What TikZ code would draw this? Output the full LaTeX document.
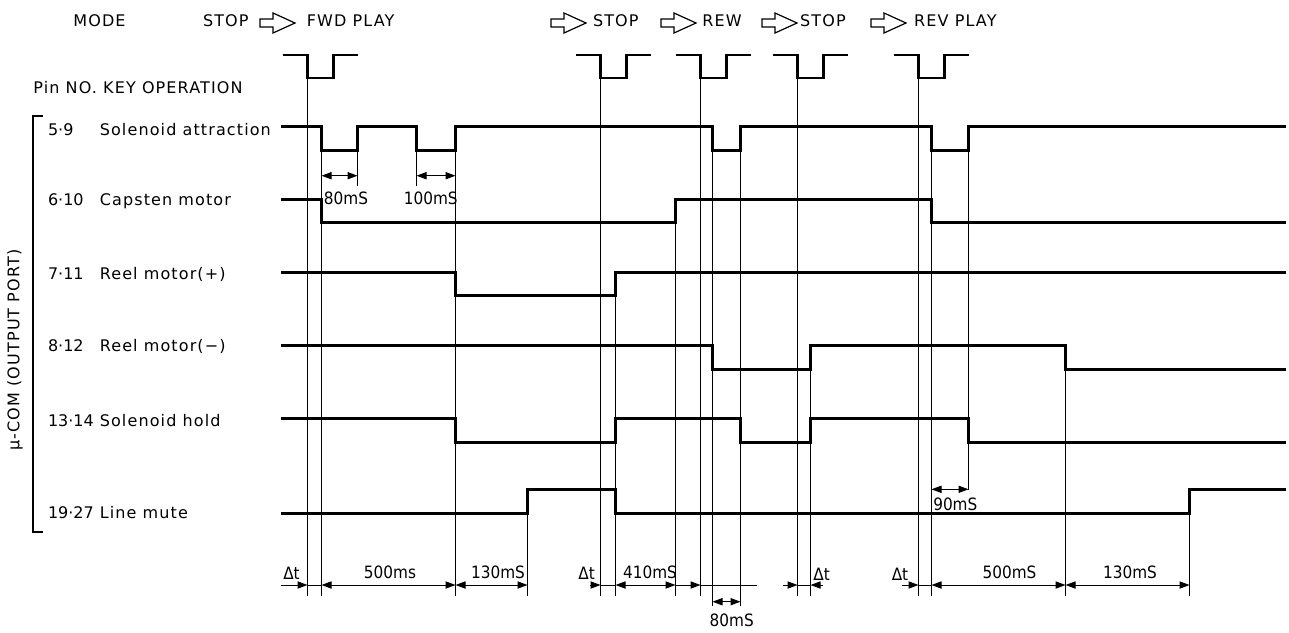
\documentclass[tikz,border=0pt]{standalone}
\usepackage{fontspec}
\setmainfont{DejaVu Sans}
\newfontfamily\lblfont{DejaVu Sans}[LetterSpace=7]
\newfontfamily\numfont{DejaVu Sans}
\newfontfamily\dimfont{DejaVu Sans}[FakeStretch=0.9]
\usetikzlibrary{arrows.meta}

\def\evA{307.5}
\def\evB{321.5}
\def\evC{357.5}
\def\evD{416.5}
\def\evE{455.5}
\def\evF{527.5}
\def\evG{600.5}
\def\evH{615.5}
\def\evI{675.5}
\def\evJ{700.5}
\def\evK{712.5}
\def\evL{740.5}
\def\evM{797.5}
\def\evN{810.5}
\def\evO{918.5}
\def\evP{931.5}
\def\evQ{968.5}
\def\evR{1065.5}
\def\evS{1189.5}

\begin{document}
\begin{tikzpicture}[x=0.5pt, y=-0.5pt,
    lbl/.style={font=\lblfont\fontsize{8}{9}\selectfont, inner sep=0pt},
    num/.style={font=\numfont\fontsize{8}{9}\selectfont, inner sep=0pt, anchor=base west},
    dimtxt/.style={font=\dimfont\fontsize{8.5}{10}\selectfont, inner sep=0pt, anchor=base},
    sig/.style={line width=1.5pt},
    key/.style={line width=1.4pt},
    evline/.style={line width=0.6pt},
    dimline/.style={line width=0.5pt},
    dimboth/.style={dimline, {Triangle[length=5pt,width=3.6pt]}-{Triangle[length=5pt,width=3.6pt]}},
    dimto/.style={dimline, -{Triangle[length=5pt,width=3.6pt]}},
    modearrow/.style={line width=0.6pt}]
    \useasboundingbox (0,0) rectangle (1289,632);

    % mode row
    \node[lbl, anchor=base]      (mode)  at (99.5,26.5)  {MODE};
    \node[lbl, anchor=base]      (stopA) at (225.8,26.5) {STOP};
    \node[lbl, anchor=base west] (fwd)   at (306.5,26.5) {FWD PLAY};
    \node[lbl, anchor=base west] (stopB) at (592.6,26.5) {STOP};
    \node[lbl, anchor=base west] (rew)   at (702,26.5)   {REW};
    \node[lbl, anchor=base west] (stopC) at (799.8,26.5) {STOP};
    \node[lbl, anchor=base west] (rev)   at (913.8,26.5) {REV PLAY};
    \foreach \a in {260,551,661,762,871}
      \draw[modearrow] (\a,19) -- (\a+13,19) -- (\a+13,13) -- (\a+35,23)
                       -- (\a+13,33) -- (\a+13,27) -- (\a,27) -- cycle;

    % row labels
    \node[lbl, anchor=base west] (keyop) at (33,93) {Pin NO. KEY OPERATION};
    \node[num] (nSol)  at (47.6,135) {5·9};
    \node[lbl, anchor=base west] (tSol)  at (99.4,135) {Solenoid attraction};
    \node[num] (nCap)  at (47.6,205) {6·10};
    \node[lbl, anchor=base west] (tCap)  at (99.4,205) {Capsten motor};
    \node[num] (nRp)   at (47.6,279) {7·11};
    \node[lbl, anchor=base west] (tRp)   at (99.4,279) {Reel motor(+)};
    \node[num] (nRm)   at (47.6,351) {8·12};
    \node[lbl, anchor=base west] (tRm)   at (99.4,351) {Reel motor(−)};
    \node[num] (nHold) at (47.6,426) {13·14};
    \node[lbl, anchor=base west] (tHold) at (99.4,426) {Solenoid hold};
    \node[num] (nMute) at (47.6,518) {19·27};
    \node[lbl, anchor=base west] (tMute) at (99.4,518) {Line mute};
    \node[lbl, rotate=90] (port) at (15,350) {μ-COM (OUTPUT PORT)};
    \draw[line width=0.8pt] (43,116) -- (33,116) -- (33,531.7) -- (43,531.7);

    % key pulses
    \foreach \k in {\evA,\evG,\evJ,\evM,\evO}
      \draw[key] (\k-25,55) -- (\k,55) -- (\k,78) -- (\k+26,78) -- (\k+26,55) -- (\k+50,55);

    % waveforms
    \draw[sig] (281,126.7) -- (\evB,126.7) -- (\evB,150) -- (\evC,150) -- (\evC,126.7)
      -- (\evD,126.7) -- (\evD,150) -- (\evE,150) -- (\evE,126.7) -- (\evK,126.7)
      -- (\evK,150) -- (\evL,150) -- (\evL,126.7) -- (\evP,126.7) -- (\evP,150)
      -- (\evQ,150) -- (\evQ,126.7) -- (1286,126.7);
    \draw[sig] (281,199) -- (\evB,199) -- (\evB,222.3) -- (\evI,222.3) -- (\evI,199)
      -- (\evP,199) -- (\evP,222.3) -- (1286,222.3);
    \draw[sig] (281,272.7) -- (\evE,272.7) -- (\evE,295) -- (\evH,295) -- (\evH,272.7)
      -- (1286,272.7);
    \draw[sig] (281,345) -- (\evK,345) -- (\evK,369) -- (\evN,369) -- (\evN,345)
      -- (\evR,345) -- (\evR,369) -- (1286,369);
    \draw[sig] (281,418) -- (\evE,418) -- (\evE,442) -- (\evH,442) -- (\evH,418)
      -- (\evL,418) -- (\evL,442) -- (\evN,442) -- (\evN,418) -- (\evQ,418)
      -- (\evQ,442) -- (1286,442);
    \draw[sig] (281,513.3) -- (\evF,513.3) -- (\evF,489.3) -- (\evH,489.3) -- (\evH,513.3)
      -- (\evS,513.3) -- (\evS,489.3) -- (1286,489.3);

    % event lines
    \foreach \x/\ya/\yb in {\evA/78/596, \evB/126.7/596, \evC/150/186, \evD/150/186,
        \evE/126.7/596, \evF/489.3/596, \evG/78/596, \evH/272.7/596, \evI/199/596,
        \evJ/78/596, \evK/126.7/606, \evL/126.7/606, \evM/78/596, \evN/345/596,
        \evO/78/596, \evP/126.7/596, \evQ/126.7/490, \evR/345/596, \evS/489.3/596}
      \draw[evline] (\x,\ya) -- (\x,\yb);

    % timing
    \draw[dimboth] (\evB,175.7) -- (\evC,175.7);
    \draw[dimboth] (\evD,175.7) -- (\evE,175.7);
    \draw[dimboth] (\evP,489.3) -- (\evQ,489.3);
    \draw[dimto]   (281,585) -- (\evA,585);
    \draw[dimline] (\evA,585) -- (\evB,585);
    \draw[dimboth] (\evB,585) -- (\evE,585);
    \draw[dimboth] (\evE,585) -- (\evF,585);
    \draw[dimto]   (590,585) -- (\evG,585);
    \draw[dimline] (\evG,585) -- (\evH,585);
    \draw[dimboth] (\evH,585) -- (\evI,585);
    \draw[dimto]   (\evI,585) -- (\evJ,585);
    \draw[dimline] (\evJ,585) -- (757,585);
    \draw[dimboth] (\evK,601.7) -- (\evL,601.7);
    \draw[dimto]   (782.7,585) -- (\evM,585);
    \draw[dimline] (\evM,585) -- (\evN,585);
    \draw[dimto]   (822.7,585) -- (\evN,585);
    \draw[dimto]   (901.7,585) -- (\evO,585);
    \draw[dimline] (\evO,585) -- (\evP,585);
    \draw[dimboth] (\evP,585) -- (\evR,585);
    \draw[dimboth] (\evR,585) -- (\evS,585);

    \node[dimtxt] (d80a)  at (346,204)    {80mS};
    \node[dimtxt] (d100)  at (430.8,204)  {100mS};
    \node[dimtxt] (d90)   at (955.3,510)  {90mS};
    \node[dimtxt] (dtA)   at (291.5,579)  {Δt};
    \node[dimtxt] (d500a) at (390,578)    {500ms};
    \node[dimtxt] (d130a) at (498,578)    {130mS};
    \node[dimtxt] (dtB)   at (586.7,579)  {Δt};
    \node[dimtxt] (d410)  at (650,578)    {410mS};
    \node[dimtxt] (d80b)  at (731.7,626.5) {80mS};
    \node[dimtxt] (dtC)   at (821.7,580)  {Δt};
    \node[dimtxt] (dtD)   at (900,580)    {Δt};
    \node[dimtxt] (d500b) at (1009.5,578) {500mS};
    \node[dimtxt] (d130b) at (1130,578)   {130mS};
\end{tikzpicture}
\end{document}
